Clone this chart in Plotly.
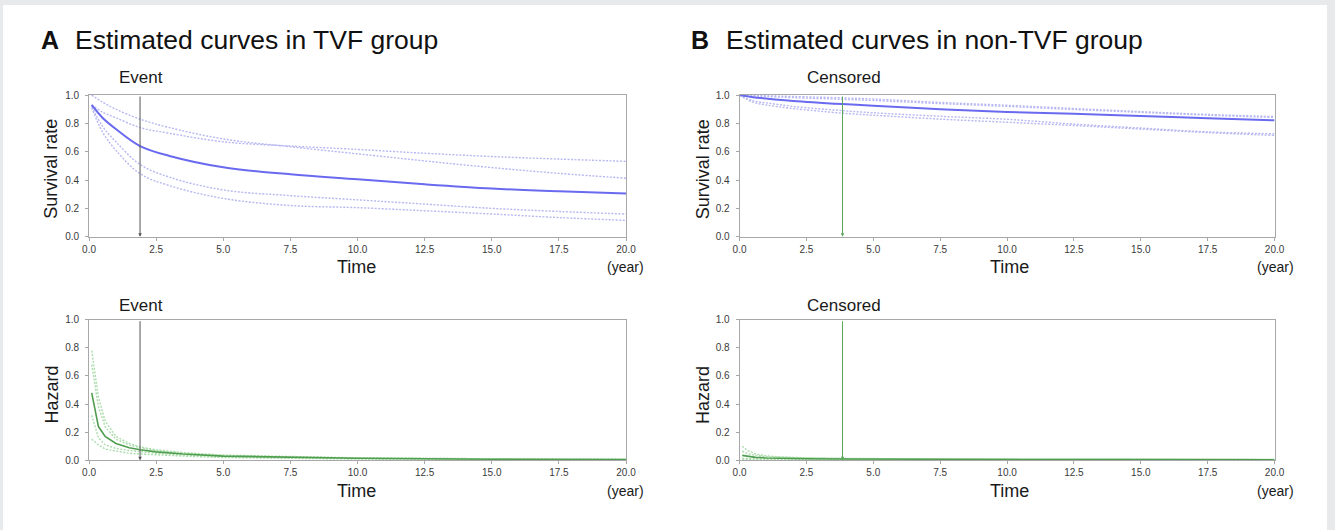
import plotly.graph_objects as go

# The page adds an 8px body margin, so the figure is drawn 16px smaller
# and every reference pixel position is offset by that margin.
PAGE_W, PAGE_H = 1335, 530
MARGIN = 8
W, H = PAGE_W - 2 * MARGIN, PAGE_H - 2 * MARGIN

# ---------------- data ----------------
# Panel A: TVF group, survival
t_sa = [0.1, 0.5, 1.0, 1.9, 3.0, 5.0, 7.5, 10.0, 12.5, 15.0, 17.5, 20.0]
surv_a = [0.93, 0.84, 0.76, 0.64, 0.57, 0.49, 0.44, 0.405, 0.37, 0.34, 0.32, 0.305]
surv_a_up1 = [1.00, 0.95, 0.90, 0.83, 0.77, 0.69, 0.635, 0.585, 0.535, 0.488, 0.447, 0.413]
surv_a_up2 = [0.93, 0.88, 0.84, 0.77, 0.73, 0.67, 0.64, 0.616, 0.589, 0.566, 0.548, 0.532]
surv_a_lo1 = [0.92, 0.78, 0.67, 0.51, 0.42, 0.33, 0.29, 0.26, 0.23, 0.20, 0.178, 0.16]
surv_a_lo2 = [0.91, 0.74, 0.61, 0.445, 0.36, 0.27, 0.22, 0.205, 0.183, 0.16, 0.135, 0.115]

# Panel A: TVF group, hazard
t_ha = [0.1, 0.35, 0.6, 1.0, 1.5, 1.9, 2.5, 3.5, 5.0, 7.5, 10.0, 15.0, 20.0]
haz_a = [0.48, 0.24, 0.17, 0.12, 0.09, 0.075, 0.06, 0.045, 0.03, 0.02, 0.015, 0.008, 0.005]
haz_a_up1 = [0.78, 0.45, 0.28, 0.17, 0.12, 0.095, 0.075, 0.055, 0.037, 0.025, 0.018, 0.010, 0.007]
haz_a_up2 = [0.68, 0.38, 0.24, 0.15, 0.11, 0.09, 0.07, 0.05, 0.035, 0.023, 0.017, 0.009, 0.006]
haz_a_lo1 = [0.32, 0.16, 0.11, 0.085, 0.07, 0.06, 0.05, 0.037, 0.025, 0.016, 0.011, 0.006, 0.003]
haz_a_lo2 = [0.15, 0.11, 0.08, 0.065, 0.05, 0.045, 0.038, 0.03, 0.02, 0.013, 0.009, 0.004, 0.002]

# Panel B: non-TVF group, survival
t_sb = [0.0, 0.5, 1.0, 2.0, 3.85, 5.0, 7.5, 10.0, 12.5, 15.0, 17.5, 20.0]
surv_b = [1.0, 0.985, 0.975, 0.958, 0.936, 0.925, 0.90, 0.881, 0.868, 0.852, 0.836, 0.822]
surv_b_up1 = [1.0, 0.998, 0.995, 0.99, 0.98, 0.972, 0.948, 0.928, 0.905, 0.883, 0.863, 0.848]
surv_b_up2 = [1.0, 0.995, 0.99, 0.982, 0.97, 0.962, 0.94, 0.92, 0.898, 0.878, 0.858, 0.842]
surv_b_lo1 = [1.0, 0.96, 0.945, 0.92, 0.89, 0.875, 0.85, 0.829, 0.795, 0.767, 0.74, 0.726]
surv_b_lo2 = [1.0, 0.95, 0.93, 0.905, 0.872, 0.858, 0.83, 0.808, 0.785, 0.76, 0.735, 0.715]

# Panel B: non-TVF group, hazard
t_hb = [0.1, 0.3, 0.6, 1.0, 1.5, 2.5, 3.85, 5.0, 7.5, 10.0, 15.0, 20.0]
haz_b = [0.035, 0.028, 0.021, 0.017, 0.014, 0.011, 0.009, 0.008, 0.007, 0.006, 0.005, 0.004]
haz_b_up1 = [0.10, 0.07, 0.045, 0.032, 0.025, 0.018, 0.014, 0.012, 0.010, 0.009, 0.008, 0.007]
haz_b_up2 = [0.065, 0.048, 0.035, 0.026, 0.021, 0.015, 0.012, 0.011, 0.009, 0.008, 0.007, 0.006]
haz_b_lo1 = [0.015, 0.012, 0.010, 0.009, 0.008, 0.007, 0.006, 0.005, 0.004, 0.004, 0.003, 0.002]
haz_b_lo2 = [0.008, 0.007, 0.006, 0.005, 0.005, 0.004, 0.004, 0.003, 0.003, 0.002, 0.002, 0.001]

event_time_a = 1.9
censor_time_b = 3.85

x_ticks = [0, 2.5, 5, 7.5, 10, 12.5, 15, 17.5, 20]
x_ticktext = ["0.0", "2.5", "5.0", "7.5", "10.0", "12.5", "15.0", "17.5", "20.0"]
y_ticks = [0, 0.2, 0.4, 0.6, 0.8, 1.0]
y_ticktext = ["0.0", "0.2", "0.4", "0.6", "0.8", "1.0"]

# ---------------- styling ----------------
FONT = "Liberation Sans, Arial, sans-serif"
BLUE = "#6a6af0"
BLUE_CI = "#b8b8f2"
GREEN = "#4f9e4f"
GREEN_CI = "#acdcac"
FRAME = "#a8a8a8"
EDGE = "#e8e9ea"


def px(x):
    return (x - MARGIN) / W


def py(y):
    return 1 - (y - MARGIN) / H


fig = go.Figure()

panels = [
    ("x", "y", t_sa, surv_a, [surv_a_up1, surv_a_up2, surv_a_lo1, surv_a_lo2], BLUE, BLUE_CI, "spline", 2.0),
    ("x2", "y2", t_ha, haz_a, [haz_a_up1, haz_a_up2, haz_a_lo1, haz_a_lo2], GREEN, GREEN_CI, "linear", 1.6),
    ("x3", "y3", t_sb, surv_b, [surv_b_up1, surv_b_up2, surv_b_lo1, surv_b_lo2], BLUE, BLUE_CI, "spline", 2.0),
    ("x4", "y4", t_hb, haz_b, [haz_b_up1, haz_b_up2, haz_b_lo1, haz_b_lo2], GREEN, GREEN_CI, "linear", 1.6),
]

for xa, ya, t, main, cis, col, cicol, shape, lw in panels:
    for ci in cis:
        fig.add_trace(go.Scatter(x=t, y=ci, mode="lines", xaxis=xa, yaxis=ya,
                                 line=dict(color=cicol, width=1.4, dash="2px,1.5px", shape=shape),
                                 hoverinfo="skip", showlegend=False))
    fig.add_trace(go.Scatter(x=t, y=main, mode="lines", xaxis=xa, yaxis=ya,
                             line=dict(color=col, width=lw, shape=shape),
                             showlegend=False))

# domains (reference pixels)
ax_x_a = [px(83), px(627)]
ax_x_b = [px(742), px(1284)]
ax_y_top = [py(236), py(91)]
ax_y_bot = [py(465), py(321)]

axis_common = dict(showgrid=False, zeroline=False, showline=True, linecolor=FRAME, linewidth=1,
                   mirror=True, ticks="outside", ticklen=3, tickcolor=FRAME,
                   tickfont=dict(family=FONT, size=10, color="#3a3a3a"))

xaxis_common = dict(axis_common, range=[0, 20], tickvals=x_ticks, ticktext=x_ticktext)
yaxis_common = dict(axis_common, range=[0, 1], tickvals=y_ticks, ticktext=y_ticktext,
                    ticklabelstandoff=4)

fig.update_layout(
    width=W, height=H,
    margin=dict(l=0, r=0, t=0, b=0),
    paper_bgcolor="white",
    plot_bgcolor="white",
    xaxis=dict(xaxis_common, domain=ax_x_a, anchor="y"),
    yaxis=dict(yaxis_common, domain=ax_y_top, anchor="x"),
    xaxis2=dict(xaxis_common, domain=ax_x_a, anchor="y2"),
    yaxis2=dict(yaxis_common, domain=ax_y_bot, anchor="x2"),
    xaxis3=dict(xaxis_common, domain=ax_x_b, anchor="y3"),
    yaxis3=dict(yaxis_common, domain=ax_y_top, anchor="x3"),
    xaxis4=dict(xaxis_common, domain=ax_x_b, anchor="y4"),
    yaxis4=dict(yaxis_common, domain=ax_y_bot, anchor="x4"),
)

ann = []


def text(x, y, s, size, angle=0, bold=False, xanchor="center", color="#1a1a1a"):
    ann.append(dict(x=px(x), y=py(y), xref="paper", yref="paper", text=("<b>%s</b>" % s) if bold else s,
                    showarrow=False, xanchor=xanchor, yanchor="middle", textangle=angle,
                    font=dict(family=FONT, size=size, color=color)))


# Titles
text(32, 35, "A", 25, bold=True, xanchor="left", color="#111")
text(67, 35, "Estimated curves in TVF group", 26.5, xanchor="left", color="#111")
text(691, 35, "B", 25, bold=True, xanchor="left", color="#111")
text(726, 35, "Estimated curves in non-TVF group", 26.5, xanchor="left", color="#111")

# axis titles
for xc, xo, xr in [(354, 0, 626), (1015, 660, 1285)]:
    text(45 + xo, 167, "Survival rate", 18, angle=-90)
    text(45 + xo, 398, "Hazard", 18, angle=-90)
    text(xc, 267, "Time", 18)
    text(xc, 496, "Time", 18)
    text(xr, 267, "(year)", 14)
    text(xr, 496, "(year)", 14)

# event / censored labels
text(136, 73, "Event", 17)
text(136, 306, "Event", 17)
text(848, 73, "Censored", 17)
text(848, 306, "Censored", 17)

# event / censored vertical arrows
for xr, yr, tt, c in [("x", "y", event_time_a, "#555555"), ("x2", "y2", event_time_a, "#555555"),
                      ("x3", "y3", censor_time_b, "#5aa65a"), ("x4", "y4", censor_time_b, "#5aa65a")]:
    ann.append(dict(x=tt, y=0, xref=xr, yref=yr, ax=tt, ay=1.0, axref=xr, ayref=yr,
                    showarrow=True, arrowhead=2, arrowsize=0.7, arrowwidth=1, arrowcolor=c, text=""))

fig.update_layout(annotations=ann)

page_bg = ("linear-gradient(to bottom,{e} 0px,{e} 5px,rgba(255,255,255,0) 5px),"
           "linear-gradient(to right,{e} 0px,{e} 3px,#ffffff 3px,#ffffff 1327px,{e} 1327px)").format(e=EDGE)

fig.write_html("out.html", config={"displayModeBar": False},
               post_script="document.body.style.background='%s';" % page_bg)
